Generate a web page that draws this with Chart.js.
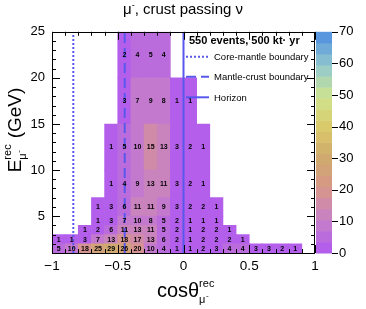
<!DOCTYPE html>
<html><head><meta charset="utf-8">
<script src="https://cdn.jsdelivr.net/npm/chart.js@4.4.0/dist/chart.umd.min.js"></script>
<style>html,body{margin:0;padding:0;background:#fff;}#wrap{width:366px;height:309px;}</style>
</head><body><div id="wrap"><canvas id="c" width="366" height="309"></canvas></div>
<script>
// ---- data ----
const cosEdges = [-1.0,-0.9,-0.8,-0.7,-0.6,-0.5,-0.4,-0.3,-0.2,-0.1,0.0,0.1,0.2,0.3,0.4,0.5,0.6,0.7,0.8,0.9,1.0];
const energyEdges = [1,2,3,4,5,7,10,15,20,25];
// counts in each energy bin, one entry per cos bin from -1 to 1
const countsE1to2   = [5,10,18,25,29,26,20,10,4,1,1,2,3,4,4,3,3,2,1,0];
const countsE2to3   = [1,1,3,7,13,18,17,13,6,2,1,2,2,2,1,0,0,0,0,0];
const countsE3to4   = [0,0,1,2,6,11,13,11,5,2,1,2,2,1,0,0,0,0,0,0];
const countsE4to5   = [0,0,0,1,3,7,10,8,5,2,1,1,1,0,0,0,0,0,0,0];
const countsE5to7   = [0,0,0,1,3,6,11,11,9,3,2,2,1,0,0,0,0,0,0,0];
const countsE7to10  = [0,0,0,0,1,4,9,13,11,3,2,1,0,0,0,0,0,0,0,0];
const countsE10to15 = [0,0,0,0,1,5,10,15,13,3,2,1,0,0,0,0,0,0,0,0];
const countsE15to20 = [0,0,0,0,0,3,7,9,8,1,1,0,0,0,0,0,0,0,0,0];
const countsE20to25 = [0,0,0,0,0,2,4,5,4,0,0,0,0,0,0,0,0,0,0,0];
const coreMantleCos = -0.838;
const mantleCrustCos = -0.447;
const horizonCos = 0;
const xTickValues = [-1,-0.5,0,0.5,1];
const xTickLabels = ['\u22121','\u22120.5','0','0.5','1'];
const yTickValues = [5,10,15,20,25];
const zTickValues = [0,10,20,30,40,50,60,70];
const zMax = 70;
const nContours = 20;

// ---- styles ----
const FONT = '"Liberation Sans", Arial, Helvetica, sans-serif';
const LINE_COLOR = '#5858ec';
const paletteStops = [
  [0.000,[180,95,235]],
  [0.143,[200,130,195]],
  [0.286,[215,150,135]],
  [0.429,[207,170,110]],
  [0.571,[218,200,105]],
  [0.714,[208,228,142]],
  [0.857,[150,203,205]],
  [1.000,[88,150,222]]
];
function pal(t){
  for(let i=1;i<paletteStops.length;i++){
    if(t<=paletteStops[i][0]){
      const [t0,c0]=paletteStops[i-1],[t1,c1]=paletteStops[i];
      const f=(t-t0)/(t1-t0);
      return 'rgb('+c0.map((c,k)=>Math.round(c+(c1[k]-c)*f)).join(',')+')';
    }
  }
  const c=paletteStops[paletteStops.length-1][1];return 'rgb('+c.join(',')+')';
}
function bandColor(k){return pal(k/(nContours-1));}
function valueColor(v){return bandColor(Math.min(nContours-1,Math.floor(v/zMax*nContours)));}

const rows = [countsE1to2,countsE2to3,countsE3to4,countsE4to5,countsE5to7,countsE7to10,countsE10to15,countsE15to20,countsE20to25];
const labels = cosEdges.slice(0,-1).map((e,i)=>((e+cosEdges[i+1])/2).toFixed(2));

const datasets = rows.map((row,r)=>({
  type:'bar', xAxisID:'x', yAxisID:'y', order:2, grouped:false,
  counts:row,
  data:row.map(v=>v>0?[energyEdges[r],energyEdges[r+1]]:null),
  backgroundColor:row.map(v=>valueColor(v)),
  borderWidth:0, categoryPercentage:1, barPercentage:1
}));
function vline(c,dash,w){
  return {type:'line', xAxisID:'xl', yAxisID:'y', order:1,
    data:[{x:c,y:energyEdges[0]},{x:c,y:energyEdges[energyEdges.length-1]}],
    borderColor:LINE_COLOR, borderWidth:w, borderDash:dash, pointRadius:0, fill:false};
}
datasets.push(vline(coreMantleCos,[2,2],2));
datasets.push(vline(mantleCrustCos,[10,5],2));
datasets.push(vline(horizonCos,[],2));

function drawScript(ctx,x,y,parts,align){
  let w=0; const m=[];
  parts.forEach(p=>{ctx.font=(p.bold?'bold ':'')+p.size+'px '+FONT; const mw=ctx.measureText(p.t).width; m.push(mw); if(p.adv!==false) w+=Math.max(mw,p.minw||0);});
  let cx = align==='center'? x-w/2 : x;
  parts.forEach((p,i)=>{ctx.font=(p.bold?'bold ':'')+p.size+'px '+FONT; ctx.fillText(p.t,cx+(p.dx||0),y+(p.dy||0)); if(p.adv!==false) cx+=Math.max(m[i],p.minw||0);});
}

const h2Plugin = {
  id:'h2',
  afterDatasetsDraw(chart){
    const ctx=chart.ctx;
    ctx.save();
    ctx.font='bold 7px '+FONT; ctx.fillStyle='#000'; ctx.textAlign='center'; ctx.textBaseline='middle';
    chart.data.datasets.forEach((ds,di)=>{
      if(!ds.counts) return;
      const meta=chart.getDatasetMeta(di);
      meta.data.forEach((bar,i)=>{
        const v=ds.counts[i]; if(!v) return;
        const p=bar.getProps(['x','y','base'],true);
        ctx.fillText(String(v),p.x,(p.y+p.base)/2+0.5);
      });
    });
    ctx.restore();
  },
  afterDraw(chart){
    const ctx=chart.ctx, a=chart.chartArea, sx=chart.scales.xl, sy=chart.scales.y, sz=chart.scales.yc;
    ctx.save();
    ctx.strokeStyle='#000'; ctx.lineWidth=1; ctx.beginPath();
    for(let i=0;i<=20;i++){
      const v=-1+i*0.1, x=Math.round(sx.getPixelForValue(v))+0.5, L=(i%5===0)?8:4;
      ctx.moveTo(x,a.bottom); ctx.lineTo(x,a.bottom-L);
      ctx.moveTo(x,a.top); ctx.lineTo(x,a.top+L);
    }
    for(let v=1;v<=25;v++){
      const y=Math.round(sy.getPixelForValue(v))+0.5, L=(v%5===0)?8:4;
      ctx.moveTo(a.left,y); ctx.lineTo(a.left+L,y);
      ctx.moveTo(a.right,y); ctx.lineTo(a.right-L,y);
    }
    ctx.stroke();
    ctx.strokeRect(Math.round(a.left)+0.5,Math.round(a.top)+0.5,Math.round(a.right-a.left)-1,Math.round(a.bottom-a.top));
    const bx=sz.left+1, bw=16;
    for(let k=0;k<nContours;k++){
      const y0=sz.getPixelForValue(k*zMax/nContours), y1=sz.getPixelForValue((k+1)*zMax/nContours);
      ctx.fillStyle=bandColor(k); ctx.fillRect(bx,y1,bw,y0-y1+0.5);
    }
    ctx.beginPath();
    zTickValues.forEach(v=>{const y=Math.round(sz.getPixelForValue(v))+0.5; ctx.moveTo(bx+bw,y); ctx.lineTo(bx+bw+6,y);});
    ctx.stroke();
    ctx.fillStyle='#000'; ctx.textAlign='left'; ctx.textBaseline='alphabetic';
    drawScript(ctx,183,14,[{t:'\u03bc',size:15},{t:'-',size:9,dy:-6},{t:', crust passing \u03bd',size:15}],'center');
    drawScript(ctx,186,297,[{t:'cos\u03b8',size:20},{t:'rec',size:11,dy:-10,adv:false},{t:'\u03bc',size:11,dy:6,adv:false},{t:'-',size:8,dy:1,dx:7,adv:false},{t:'',size:11,minw:16}],'center');
    ctx.save(); ctx.translate(20.5,130); ctx.rotate(-Math.PI/2);
    drawScript(ctx,0,0,[{t:'E',size:19},{t:'rec',size:11,dy:-10,adv:false},{t:'\u03bc',size:11,dy:5,adv:false},{t:'-',size:8,dy:0,dx:7,adv:false},{t:'',size:11,minw:16},{t:' (GeV)',size:19}],'center');
    ctx.restore();
    ctx.font='bold 11px '+FONT; ctx.fillText('550 events, 500 kt\u00b7 yr',189,44);
    const ent=[['Core-mantle boundary',[2,2],2,56.7],['Mantle-crust boundary',[10,5],2,76.7],['Horizon',[],2,97.3]];
    ctx.font='9.5px '+FONT;
    ent.forEach(e=>{
      ctx.strokeStyle=LINE_COLOR; ctx.lineWidth=e[2]; ctx.setLineDash(e[1]);
      ctx.beginPath(); ctx.moveTo(186,e[3]); ctx.lineTo(209,e[3]); ctx.stroke();
      ctx.setLineDash([]); ctx.fillStyle='#000'; ctx.fillText(e[0],214,e[3]+3.5);
    });
    ctx.restore();
  }
};

new Chart(document.getElementById('c'),{
  type:'bar',
  data:{labels, datasets},
  options:{
    responsive:false, animation:false, devicePixelRatio:1,
    layout:{padding:{top:26,left:0,right:0,bottom:0}},
    plugins:{legend:{display:false},tooltip:{enabled:false},title:{display:false}},
    scales:{
      x:{type:'category', display:false, offset:true},
      xl:{type:'linear', position:'bottom', min:-1, max:1, offset:false,
        afterBuildTicks:s=>{s.ticks=xTickValues.map(v=>({value:v}));},
        afterFit:s=>{s.height=56;},
        ticks:{autoSkip:false, maxRotation:0, padding:5, color:'#000', font:{family:FONT,size:13.5},
          callback:v=>xTickLabels[xTickValues.indexOf(v)]},
        grid:{display:false, drawTicks:false, offset:false}, border:{display:false}},
      y:{type:'linear', position:'left', min:energyEdges[0], max:energyEdges[energyEdges.length-1],
        afterBuildTicks:s=>{s.ticks=yTickValues.map(v=>({value:v}));},
        afterFit:s=>{s.width=52;},
        ticks:{padding:7, color:'#000', font:{family:FONT,size:13}},
        grid:{display:false, drawTicks:false}, border:{display:false}},
      yc:{type:'linear', position:'right', min:0, max:zMax,
        afterBuildTicks:s=>{s.ticks=zTickValues.map(v=>({value:v}));},
        afterFit:s=>{s.width=51;},
        ticks:{padding:24, color:'#000', font:{family:FONT,size:13}},
        grid:{display:false, drawTicks:false}, border:{display:false}}
    }
  },
  plugins:[h2Plugin]
});
</script></body></html>
